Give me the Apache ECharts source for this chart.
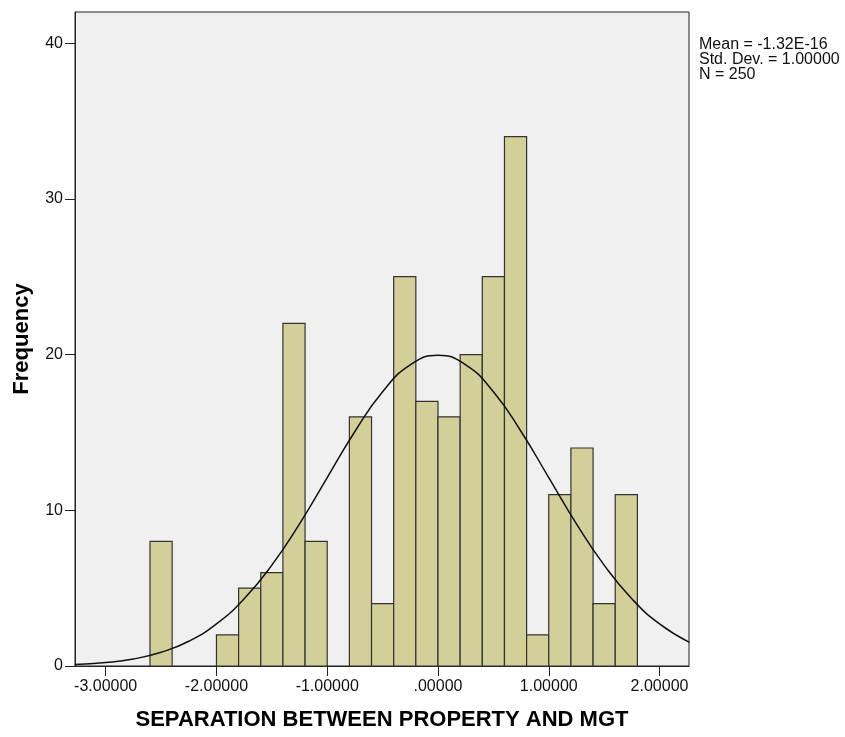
<!DOCTYPE html>
<html>
<head>
<meta charset="utf-8">
<script src="https://cdn.jsdelivr.net/npm/echarts@6/dist/echarts.min.js"></script>
<style>
  html, body { margin: 0; padding: 0; background: #fff; }
  #chart { width: 845px; height: 737px; }
</style>
</head>
<body>
<div id="chart"></div>
<script>
// histogram bins (width 0.2)
const binLeft = [-2.6, -2.0, -1.8, -1.6, -1.4, -1.2, -0.8, -0.6, -0.4, -0.2, 0.0, 0.2, 0.4, 0.6, 0.8, 1.0, 1.2, 1.4, 1.6]
const binRight = [-2.4, -1.8, -1.6, -1.4, -1.2, -1.0, -0.6, -0.4, -0.2, 0.0, 0.2, 0.4, 0.6, 0.8, 1.0, 1.2, 1.4, 1.6, 1.8]
const counts = [8, 2, 5, 6, 22, 8, 16, 4, 25, 17, 16, 20, 25, 34, 2, 11, 14, 4, 11]

// normal curve
const curveX = [-3.28, -3.0, -2.75, -2.5, -2.25, -2.0, -1.75, -1.5, -1.25, -1.0, -0.75, -0.5, -0.25, 0,
  0.25, 0.5, 0.75, 1.0, 1.25, 1.5, 1.75, 2.0, 2.27]
const curveY = [0.09, 0.22, 0.45, 0.88, 1.59, 2.7, 4.32, 6.48, 9.13, 12.1, 15.06, 17.61, 19.34, 19.95,
  19.34, 17.61, 15.06, 12.1, 9.13, 6.48, 4.32, 2.7, 1.52]

const xTicks = [-3, -2, -1, 0, 1, 2]
const yTicks = [0, 10, 20, 30, 40]
const statsText = ['Mean = -1.32E-16', 'Std. Dev. = 1.00000', 'N = 250']

const font = "'Liberation Sans', Arial, sans-serif"
const chart = echarts.init(document.getElementById('chart'))

chart.setOption({
  backgroundColor: '#fff',
  animation: false,
  grid: {
    left: 75, right: 156, top: 12, bottom: 71,
    show: true, backgroundColor: '#f0f0f0', borderColor: '#222', borderWidth: 1
  },
  xAxis: {
    type: 'value',
    min: -3.277,
    max: 2.266,
    name: 'SEPARATION BETWEEN PROPERTY AND MGT',
    nameLocation: 'middle',
    nameGap: 43,
    nameTextStyle: { fontFamily: font, fontSize: 22, fontWeight: 'bold', color: '#000' },
    axisLine: { onZero: false, lineStyle: { color: '#222', width: 1 } },
    axisTick: { customValues: xTicks, length: 10, lineStyle: { color: '#222' } },
    axisLabel: {
      customValues: xTicks,
      margin: 13,
      fontFamily: font, fontSize: 16, color: '#111',
      formatter: (v) => (v === 0 ? '.00000' : v.toFixed(5))
    },
    splitLine: { show: false }
  },
  yAxis: {
    type: 'value',
    min: 0,
    max: 42,
    name: 'Frequency',
    nameLocation: 'middle',
    nameGap: 42,
    nameRotate: 90,
    nameTextStyle: { fontFamily: font, fontSize: 22, fontWeight: 'bold', color: '#000' },
    axisLine: { onZero: false, lineStyle: { color: '#222', width: 1 } },
    axisTick: { customValues: yTicks, length: 10, lineStyle: { color: '#222' } },
    axisLabel: { customValues: yTicks, margin: 12, fontFamily: font, fontSize: 16, color: '#111' },
    splitLine: { show: false }
  },
  graphic: [
    {
      type: 'text',
      left: 699,
      top: 37,
      style: {
        text: statsText.join('\n'),
        font: '16px ' + font,
        lineHeight: 15,
        fill: '#111'
      }
    }
  ],
  series: [
    {
      type: 'custom',
      data: binLeft.map((l, i) => [l, binRight[i], counts[i]]),
      encode: { x: [0, 1], y: 2 },
      renderItem: (params, api) => {
        const p0 = api.coord([api.value(0), api.value(2)])
        const p1 = api.coord([api.value(1), 0])
        return {
          type: 'rect',
          shape: { x: p0[0], y: p0[1], width: p1[0] - p0[0], height: p1[1] - p0[1] },
          style: { fill: '#d3cf98', stroke: '#333', lineWidth: 1.2 }
        }
      },
      z: 2
    },
    {
      type: 'line',
      data: curveX.map((x, i) => [x, curveY[i]]),
      smooth: true,
      symbol: 'none',
      lineStyle: { color: '#111', width: 1.5 },
      z: 3
    }
  ]
})
</script>
</body>
</html>
